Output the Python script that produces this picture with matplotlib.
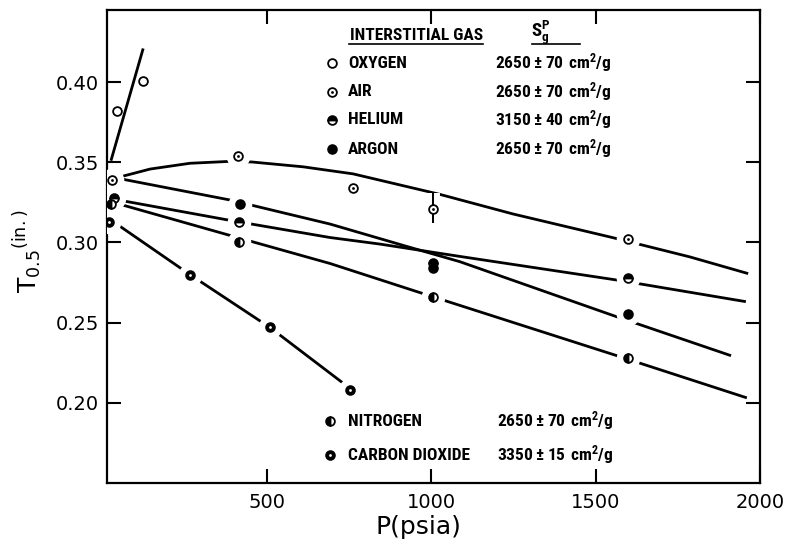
import numpy as np
import matplotlib
matplotlib.use('Agg')
import matplotlib.pyplot as plt
from matplotlib import font_manager
import matplotlib.patheffects as pe

# ---------------- data ----------------
oxygen_p = [46, 125]
oxygen_t = [0.382, 0.401]
air_p = [30, 413, 763, 1006, 1600]
air_t = [0.339, 0.354, 0.334, 0.321, 0.302]
air_err_p = [1006]
air_err_lo = [0.312]
air_err_hi = [0.331]
helium_p = [36, 415, 1006, 1600]
helium_t = [0.3275, 0.3125, 0.2875, 0.278]
argon_p = [419, 1006, 1600]
argon_t = [0.324, 0.284, 0.2557]
nitrogen_p = [27, 416, 1006, 1600]
nitrogen_t = [0.324, 0.300, 0.266, 0.228]
co2_p = [21, 267, 511, 754]
co2_t = [0.3125, 0.280, 0.247, 0.208]

# hand-drawn curves
oxygen_curve_p = [27, 125]
oxygen_curve_t = [0.351, 0.421]
air_curve_p = [49, 146, 267, 389, 456, 611, 763, 1027, 1249, 1553, 1787, 1964]
air_curve_t = [0.3406, 0.3458, 0.3494, 0.3506, 0.3502, 0.3472, 0.3428, 0.3300,
               0.3178, 0.3030, 0.2910, 0.2806]
argon_curve_p = [49, 389, 693, 927, 1088, 1553, 1912]
argon_curve_t = [0.340, 0.3265, 0.3115, 0.2975, 0.2880, 0.2545, 0.2294]
helium_curve_p = [55, 389, 693, 845, 1088, 1574, 1957]
helium_curve_t = [0.3263, 0.3138, 0.3031, 0.2990, 0.2913, 0.2763, 0.2631]
nitrogen_curve_p = [55, 389, 693, 976, 1565, 1960]
nitrogen_curve_t = [0.3238, 0.3044, 0.2869, 0.2681, 0.2294, 0.2031]
co2_curve_p = [46, 267, 511, 739, 754]
co2_curve_t = [0.3113, 0.280, 0.2469, 0.2113, 0.208]

x_ticks = [500, 1000, 1500, 2000]
y_ticks = [0.20, 0.25, 0.30, 0.35, 0.40]
y_ticklabels = ['0.20', '0.25', '0.30', '0.35', '0.40']

legend_top_names = ['OXYGEN', 'AIR', 'HELIUM', 'ARGON']
legend_top_values = [r'$\mathregular{2650 \pm 70\ cm^2/g}$',
                     r'$\mathregular{2650 \pm 70\ cm^2/g}$',
                     r'$\mathregular{3150 \pm 40\ cm^2/g}$',
                     r'$\mathregular{2650 \pm 70\ cm^2/g}$']
legend_bottom_names = ['NITROGEN', 'CARBON DIOXIDE']
legend_bottom_values = [r'$\mathregular{2650 \pm 70\ cm^2/g}$',
                        r'$\mathregular{3350 \pm 15\ cm^2/g}$']

# ---------------- fonts ----------------
available = {f.name for f in font_manager.fontManager.ttflist}
narrow = None
for cand in ['Liberation Sans Narrow', 'Roboto Condensed', 'Open Sans Condensed',
             'DejaVu Sans Condensed']:
    if cand in available:
        narrow = cand
        break
if narrow is None:
    narrow = 'DejaVu Sans'
    narrow_kw = dict(family=narrow, fontstretch='condensed', fontweight='bold')
else:
    narrow_kw = dict(family=narrow, fontweight='bold')

plt.rcParams['font.family'] = ['DejaVu Sans']
plt.rcParams['mathtext.default'] = 'regular'

# ---------------- figure ----------------
W, H = 794, 545
fig = plt.figure(figsize=(W / 100, H / 100), dpi=100)
L, R, T, B = 107, 760, 10, 483
ax = fig.add_axes([L / W, 1 - B / H, (R - L) / W, (B - T) / H])
ax.set_xlim(15, 2000)
ax.set_ylim(0.15, 0.445)

LW = 2.0
for cp, ct in [(oxygen_curve_p, oxygen_curve_t), (air_curve_p, air_curve_t),
               (argon_curve_p, argon_curve_t), (helium_curve_p, helium_curve_t),
               (nitrogen_curve_p, nitrogen_curve_t), (co2_curve_p, co2_curve_t)]:
    ax.plot(cp, ct, color='black', lw=LW, zorder=2, solid_capstyle='butt',
            solid_joinstyle='round')

# error bar on air at 1000 psia (cuts the curve with a white halo)
ax.vlines(air_err_p, air_err_lo, air_err_hi, color='black', lw=1.3, zorder=3.5,
          path_effects=[pe.withStroke(linewidth=10, foreground='white'), pe.Normal()])


def halo(ps, ts, cp, ct, thr=0.0052):
    for p, t in zip(ps, ts):
        if abs(np.interp(p, cp, ct) - t) < thr:
            ax.plot([p], [t], 'o', ms=17, mfc='white', mec='none', zorder=3)


halo(air_p, air_t, air_curve_p, air_curve_t)
halo(helium_p, helium_t, helium_curve_p, helium_curve_t)
halo(argon_p, argon_t, argon_curve_p, argon_curve_t)
halo(nitrogen_p, nitrogen_t, nitrogen_curve_p, nitrogen_curve_t)
halo(co2_p, co2_t, co2_curve_p, co2_curve_t)

MS = 6.3
styles = {
    'oxygen': dict(marker='o', ms=MS, mfc='white', mec='black', mew=1.3),
    'air': dict(marker='o', ms=MS, mfc='white', mec='black', mew=1.3),
    'helium': dict(marker='o', ms=MS, mfc='black', mfcalt='white', fillstyle='top',
                   mec='black', mew=1.3),
    'argon': dict(marker='o', ms=MS, mfc='black', mec='black', mew=1.3),
    'nitrogen': dict(marker='o', ms=MS, mfc='black', mfcalt='white', fillstyle='left',
                     mec='black', mew=1.3),
    'co2': dict(marker='o', ms=MS, mfc='black', mec='black', mew=1.3),
}
dot_in = {'air': 'black', 'co2': 'white'}


def draw_pts(ps, ts, key, **kw):
    ax.plot(ps, ts, ls='none', zorder=4, **styles[key], **kw)
    if key in dot_in:
        ax.plot(ps, ts, ls='none', marker='o', ms=2.0, mfc=dot_in[key], mec='none',
                zorder=5, **kw)


draw_pts(oxygen_p, oxygen_t, 'oxygen')
draw_pts(air_p, air_t, 'air')
draw_pts(helium_p, helium_t, 'helium')
draw_pts(argon_p, argon_t, 'argon')
draw_pts(nitrogen_p, nitrogen_t, 'nitrogen')
draw_pts(co2_p, co2_t, 'co2')

# ---------------- axes styling ----------------
for s in ax.spines.values():
    s.set_linewidth(1.6)
ax.set_xticks(x_ticks)
ax.set_xticklabels([str(v) for v in x_ticks])
ax.set_yticks(y_ticks)
ax.set_yticklabels(y_ticklabels)
ax.tick_params(direction='in', length=10, width=1.5, top=True, right=True,
               labelsize=14, pad=6)
ax.tick_params(axis='x', pad=7)

fig.text(28 / W, 1 - 251 / H, r'$\mathregular{T_{0.5}{}^{(in.)}}$', rotation=90,
         ha='center', va='center', fontsize=18)
fig.text(418 / W, 1 - 527 / H, 'P(psia)', ha='center', va='center', fontsize=18)

# ---------------- in-plot legend ----------------
def fx(px):
    return (px - L) / (R - L)


def fy(py):
    return (B - py) / (B - T)


tr = ax.transAxes
FS = 12.5
ax.text(fx(350), fy(36), 'INTERSTITIAL GAS', transform=tr, ha='left', va='center',
        fontsize=FS, **narrow_kw)
ax.plot([fx(349), fx(483)], [fy(44), fy(44)], transform=tr, color='black', lw=1.2,
        clip_on=False)
ax.text(fx(531), fy(33), r'$\mathregular{S_g^P}$', transform=tr, ha='left', va='center',
        fontsize=FS + 1, **narrow_kw)
ax.plot([fx(532), fx(580)], [fy(44), fy(44)], transform=tr, color='black', lw=1.2,
        clip_on=False)

top_rows = [63, 92, 120, 149]
for key, name, val, py in zip(['oxygen', 'air', 'helium', 'argon'], legend_top_names,
                              legend_top_values, top_rows):
    ax.plot([fx(332)], [fy(py)], transform=tr, ls='none', zorder=4, **styles[key])
    if key in dot_in:
        ax.plot([fx(332)], [fy(py)], transform=tr, ls='none', marker='o', ms=2.0,
                mfc=dot_in[key], mec='none', zorder=5)
    ax.text(fx(348), fy(py), name, transform=tr, ha='left', va='center', fontsize=FS,
            **narrow_kw)
    ax.text(fx(495), fy(py), val, transform=tr, ha='left', va='center', fontsize=FS,
            **narrow_kw)

bottom_rows = [421, 455]
for key, name, val, py in zip(['nitrogen', 'co2'], legend_bottom_names,
                              legend_bottom_values, bottom_rows):
    ax.plot([fx(330)], [fy(py)], transform=tr, ls='none', zorder=4, **styles[key])
    if key in dot_in:
        ax.plot([fx(330)], [fy(py)], transform=tr, ls='none', marker='o', ms=2.0,
                mfc=dot_in[key], mec='none', zorder=5)
    ax.text(fx(348), fy(py), name, transform=tr, ha='left', va='center', fontsize=FS,
            **narrow_kw)
    ax.text(fx(497), fy(py), val, transform=tr, ha='left', va='center', fontsize=FS,
            **narrow_kw)

fig.savefig('out.png', dpi=100)
